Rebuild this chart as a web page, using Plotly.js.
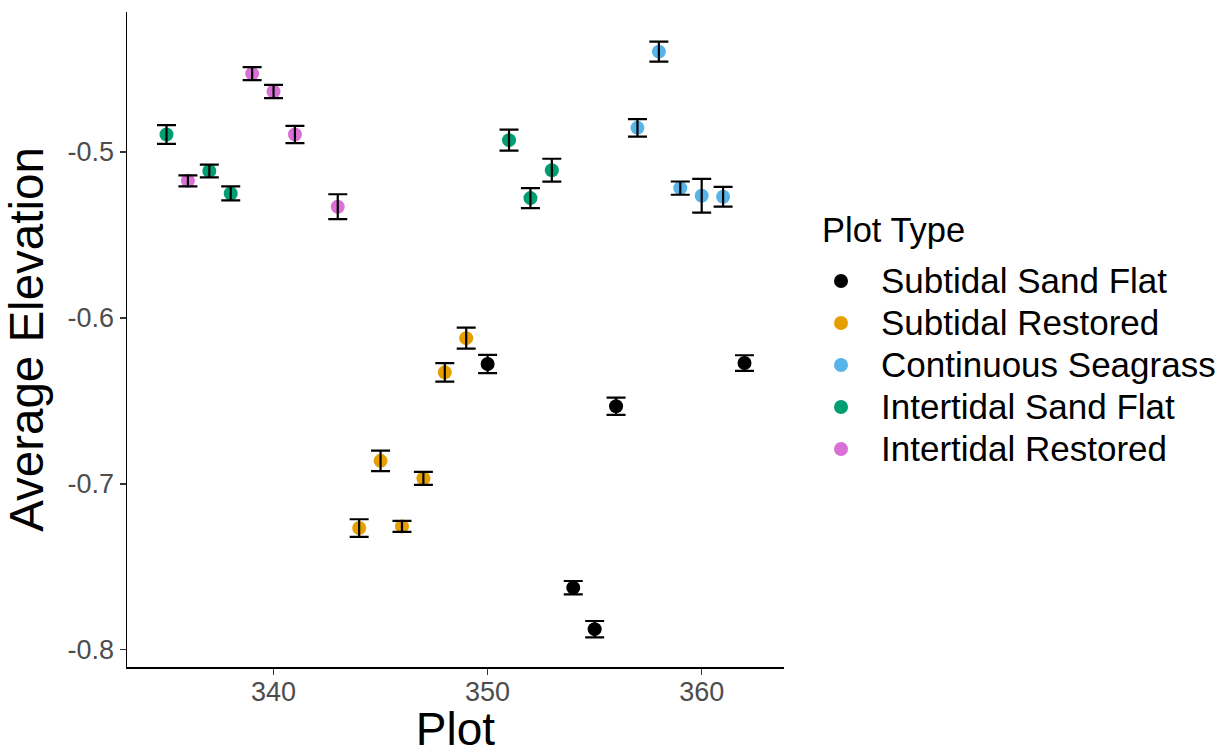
<!DOCTYPE html>
<html>
<head>
<meta charset="utf-8">
<script src="https://cdn.plot.ly/plotly-3.0.1.min.js"></script>
<style>
  html, body { margin: 0; padding: 0; background: #ffffff; }
  #chart { width: 1231px; height: 755px; }
</style>
</head>
<body>
<div id="chart"></div>
<script>
// ---- Data ----
const categories = ["Subtidal Sand Flat", "Subtidal Restored", "Continuous Seagrass", "Intertidal Sand Flat", "Intertidal Restored"];
const colors = ["#000000", "#E69F00", "#56B4E9", "#009E73", "#DA70D6"];
const legendTitle = "Plot Type";

const subtidalSandPlots = [350, 354, 355, 356, 362];
const subtidalSandElev  = [-0.6279, -0.7626, -0.7876, -0.6533, -0.6273];
const subtidalSandSE    = [0.0055, 0.0040, 0.0049, 0.0052, 0.0047];

const subtidalRestPlots = [344, 345, 346, 347, 348, 349];
const subtidalRestElev  = [-0.7267, -0.6862, -0.7257, -0.6968, -0.6329, -0.6123];
const subtidalRestSE    = [0.0053, 0.0062, 0.0033, 0.0039, 0.0056, 0.0063];

const seagrassPlots = [357, 358, 359, 360, 361];
const seagrassElev  = [-0.4856, -0.4397, -0.5219, -0.5265, -0.5271];
const seagrassSE    = [0.0053, 0.0060, 0.0040, 0.0102, 0.0060];

const intertidalSandPlots = [335, 337, 338, 351, 352, 353];
const intertidalSandElev  = [-0.4896, -0.5116, -0.5251, -0.4930, -0.5279, -0.5111];
const intertidalSandSE    = [0.0056, 0.0038, 0.0042, 0.0063, 0.0060, 0.0069];

const intertidalRestPlots = [336, 339, 340, 341, 343];
const intertidalRestElev  = [-0.5175, -0.4529, -0.4637, -0.4896, -0.5331];
const intertidalRestSE    = [0.0033, 0.0039, 0.0040, 0.0052, 0.0075];

const xTickVals = [340, 350, 360];
const xTickText = ["340", "350", "360"];
const yTickVals = [-0.8, -0.7, -0.6, -0.5];
const yTickText = ["-0.8", "-0.7", "-0.6", "-0.5"];

// ---- Build traces ----
const series = [
  [subtidalSandPlots, subtidalSandElev, subtidalSandSE],
  [subtidalRestPlots, subtidalRestElev, subtidalRestSE],
  [seagrassPlots, seagrassElev, seagrassSE],
  [intertidalSandPlots, intertidalSandElev, intertidalSandSE],
  [intertidalRestPlots, intertidalRestElev, intertidalRestSE]
];

const FONT = "Liberation Sans, Arial, Helvetica, sans-serif";

const pointTraces = series.map((s, i) => ({
  type: "scatter", mode: "markers",
  x: s[0], y: s[1],
  name: '<span style="font-size:35px">' + categories[i] + '</span>',
  legendgroup: "g" + i,
  marker: { color: colors[i], size: 14, line: { width: 0 } },
  hoverinfo: "x+y"
}));

// error bars drawn on top of the points (as in the reference)
const errTraces = series.map((s, i) => ({
  type: "scatter", mode: "markers",
  x: s[0], y: s[1],
  name: categories[i],
  legendgroup: "g" + i,
  showlegend: false,
  hoverinfo: "skip",
  marker: { color: "rgba(0,0,0,0)", size: 1 },
  error_y: { type: "data", array: s[2], visible: true, color: "#000000", thickness: 2.2, width: 9.5 }
}));

const axisFont = { family: FONT, size: 27, color: "#4D4D4D" };
const ML = 127, MR = 447, MT = 12, MB = 88;
const PW = 1231 - ML - MR;   // plot width in px
const PH = 755 - MT - MB;    // plot height in px

const layout = {
  width: 1231, height: 755,
  paper_bgcolor: "#ffffff", plot_bgcolor: "#ffffff",
  margin: { l: ML, r: MR, t: MT, b: MB, pad: 0, autoexpand: false },
  font: { family: FONT, color: "#000000" },
  showlegend: true,
  xaxis: {
    range: [333.155, 363.845],
    tickvals: xTickVals, ticktext: xTickText,
    showgrid: false, zeroline: false,
    showline: true, linecolor: "#000000", linewidth: 1.5,
    ticks: "outside", ticklen: 6, tickwidth: 1.5, tickcolor: "#333333",
    ticklabelstandoff: -6,
    tickfont: axisFont,
    title: { text: "Plot", font: { family: FONT, size: 46, color: "#000000" }, standoff: 14 }
  },
  yaxis: {
    range: [-0.8104, -0.4158],
    tickvals: yTickVals, ticktext: yTickText,
    showgrid: false, zeroline: false,
    showline: true, linecolor: "#000000", linewidth: 1.5,
    ticks: "outside", ticklen: 6, tickwidth: 1.5, tickcolor: "#333333",
    tickfont: axisFont,
    title: { text: "Average Elevation", font: { family: FONT, size: 47.5, color: "#000000" }, standoff: 10 }
  },
  legend: {
    x: (801 - ML) / PW, xanchor: "left",
    y: (667 - 255) / PH, yanchor: "top",
    bgcolor: "rgba(0,0,0,0)", borderwidth: 0,
    font: { family: FONT, size: 30, color: "#000000" },
    itemsizing: "trace",
    itemwidth: 70,
    traceorder: "normal",
    tracegroupgap: 0
  },
  annotations: [{
    text: legendTitle,
    xref: "paper", yref: "paper",
    x: (820 - ML) / PW, xanchor: "left",
    y: (667 - 230) / PH, yanchor: "middle",
    showarrow: false,
    font: { family: FONT, size: 34.5, color: "#000000" }
  }]
};

Plotly.newPlot("chart", pointTraces.concat(errTraces), layout, { displayModeBar: false, staticPlot: true });
</script>
</body>
</html>
